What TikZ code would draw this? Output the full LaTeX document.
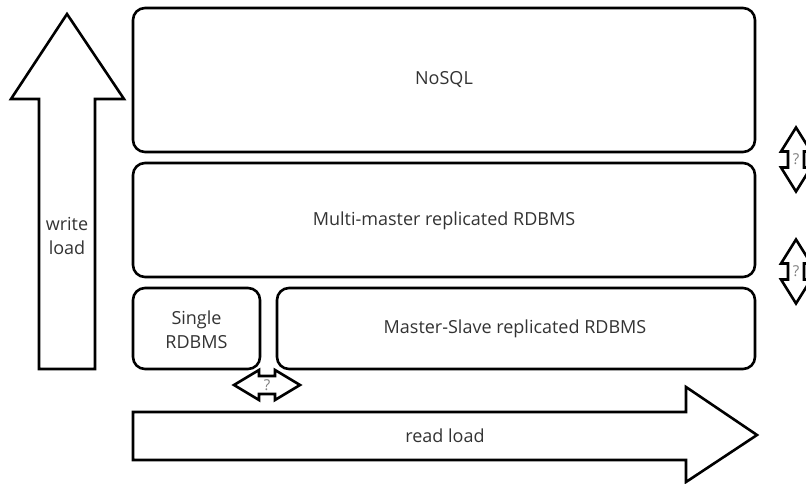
\documentclass[tikz,border=0pt]{standalone}
\usepackage{fontspec}
\setmainfont{Open Sans}
\begin{document}
\begin{tikzpicture}[x=1pt,y=-1pt,
  outline/.style={draw=black,line width=2.6pt,line join=miter,fill=white},
  tier/.style={draw=black,line width=2.6pt,rounded corners=12pt,fill=white},
  label/.style={text=black!80,font=\fontsize{18}{24}\selectfont,align=center,inner sep=0pt},
  qmark/.style={text=black!50,font=\fontsize{15}{16}\selectfont,inner sep=0pt},
  vdbl/.pic={
    \draw[outline] (0,-32) -- (15,-8) -- (8,-8) -- (8,8) -- (15,8) -- (0,32)
      -- (-15,8) -- (-8,8) -- (-8,-8) -- (-15,-8) -- cycle;
    \node[qmark] (-q) at (0,0) {?};
  },
  hdbl/.pic={
    \draw[outline] (-33,0) -- (-8,-15) -- (-8,-9) -- (8,-9) -- (8,-15) -- (33,0)
      -- (8,15) -- (8,9) -- (-8,9) -- (-8,15) -- cycle;
    \node[qmark] (-q) at (0,0) {?};
  }]
\useasboundingbox (0,0) rectangle (806,484);

% write load arrow (vertical block arrow)
\draw[outline] (39,369) -- (39,99) -- (11,99) -- (67,14) -- (124,99)
  -- (95,99) -- (95,369) -- cycle;
\node[label] (write) at (67,236) {write\\load};

% read load arrow (horizontal block arrow)
\draw[outline] (133,412) -- (686,412) -- (686,387) -- (757,435) -- (686,482)
  -- (686,460) -- (133,460) -- cycle;
\node[label] (read) at (445,436) {read load};

% database tiers
\draw[tier] (133,8) rectangle (755,152);
\node[label] (nosql) at (444,80) {NoSQL};

\draw[tier] (133,163) rectangle (755,277);
\node[label] (multi) at (444,221) {Multi-master replicated RDBMS};

\draw[tier] (133,288) rectangle (260,369);
\node[label] (single) at (196.5,330) {Single\\RDBMS};

\draw[tier] (277,288) rectangle (755,369);
\node[label] (ms) at (515,329) {Master-Slave replicated RDBMS};

% uncertain transitions between tiers
\pic (up1) at (796,159.5) {vdbl};
\pic (up2) at (796,271.5) {vdbl};
\pic (side) at (267,385) {hdbl};
\end{tikzpicture}
\end{document}
